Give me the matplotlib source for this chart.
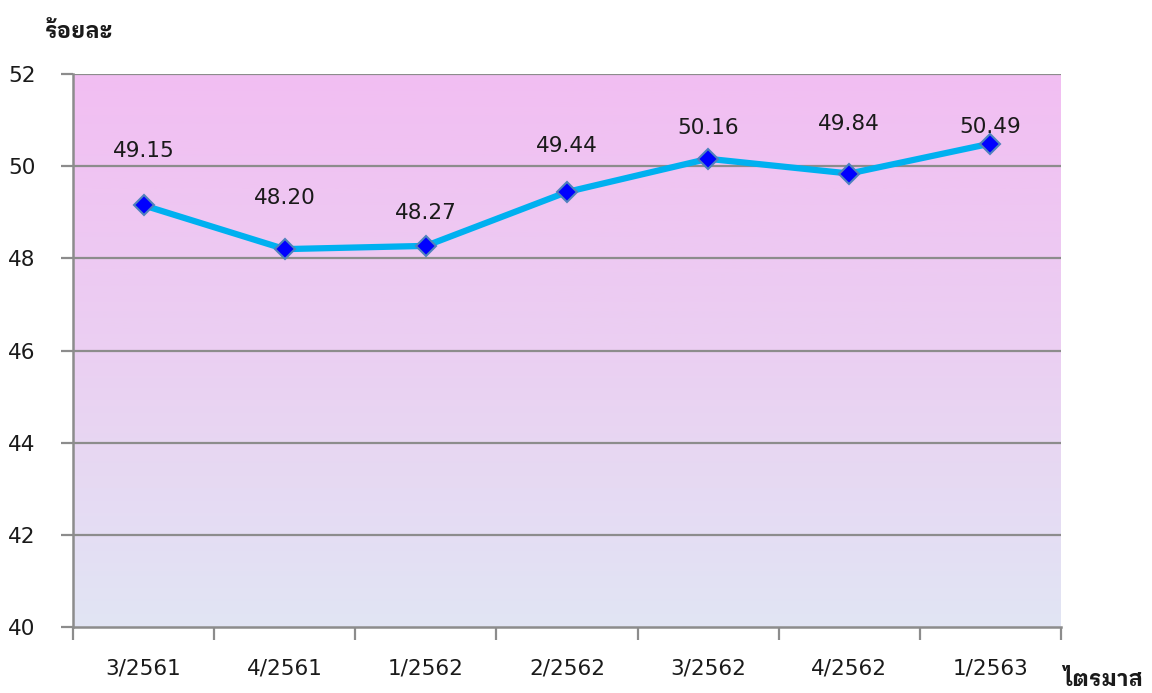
import matplotlib
matplotlib.use("Agg")
import matplotlib.pyplot as plt
import numpy as np
from matplotlib.colors import LinearSegmentedColormap

categories = ["3/2561", "4/2561", "1/2562", "2/2562", "3/2562", "4/2562", "1/2563"]
values = [49.15, 48.20, 48.27, 49.44, 50.16, 49.84, 50.49]
y_ticks = [40, 42, 44, 46, 48, 50, 52]
label_dy_px = [54, 51, 33, 46, 31, 50, 17]

fig = plt.figure(figsize=(11.52, 6.93), dpi=100)
ax = fig.add_axes([73/1152, 1-627/693, (1061-73)/1152, (627-74)/693])

# gradient background
cmap = LinearSegmentedColormap.from_list("bg", ["#E1E5F4", "#EBCFF2", "#F2BEF2"])
grad = np.linspace(0, 1, 256).reshape(-1, 1)
ax.imshow(grad, cmap=cmap, aspect="auto", extent=[0, 1, 0, 1],
          transform=ax.transAxes, origin="lower", zorder=0)

x = np.arange(len(categories))
ax.set_xlim(-0.5, len(categories) - 0.5)
ax.set_ylim(y_ticks[0], y_ticks[-1])

for yt in y_ticks[1:]:
    ax.axhline(yt, color="#8C8C8C", lw=1.6, zorder=1)

ax.plot(x, values, color="#00B0F0", lw=4.5, zorder=3, solid_capstyle="round")
ax.plot(x, values, linestyle="none", marker="D", markersize=10.5,
        markerfacecolor="#0000FF", markeredgecolor="#4F81BD", markeredgewidth=1.5, zorder=4)

for xi, v, dy in zip(x, values, label_dy_px):
    ax.annotate(f"{v:.2f}", (xi, v), xytext=(0, dy * 72 / 100), textcoords="offset points",
                ha="center", va="center", fontsize=15.5, color="#1A1A1A", zorder=5)

ax.set_yticks(y_ticks)
ax.set_yticklabels([str(t) for t in y_ticks], fontsize=15.5, color="#1A1A1A")
ax.set_xticks(np.arange(-0.5, len(categories)), minor=False)
ax.set_xticklabels([])
ax.set_xticks(x, minor=True)
ax.set_xticklabels(categories, minor=True, fontsize=15.5, color="#1A1A1A")
ax.tick_params(axis="x", which="major", length=9, width=1.6, color="#8C8C8C", direction="out")
ax.tick_params(axis="x", which="minor", length=0, pad=23)
ax.tick_params(axis="y", length=9, width=1.6, color="#8C8C8C", direction="out", pad=18)

for s in ["top", "right"]:
    ax.spines[s].set_visible(False)
for s in ["left", "bottom"]:
    ax.spines[s].set_color("#8C8C8C")
    ax.spines[s].set_linewidth(1.8)
    ax.spines[s].set_zorder(2)

thai = ["IBM Plex Sans Thai Looped", "Sarabun", "DejaVu Sans"]
fig.text(45/1152, 1-31/693, "ร้อยละ", family=thai, fontsize=16, fontweight="bold",
         ha="left", va="center", color="#1A1A1A")
fig.text(1063/1152, 1-680/693, "ไตรมาส", family=thai, fontsize=16, fontweight="bold",
         ha="left", va="center", color="#1A1A1A")

fig.savefig("out.png", dpi=100)
